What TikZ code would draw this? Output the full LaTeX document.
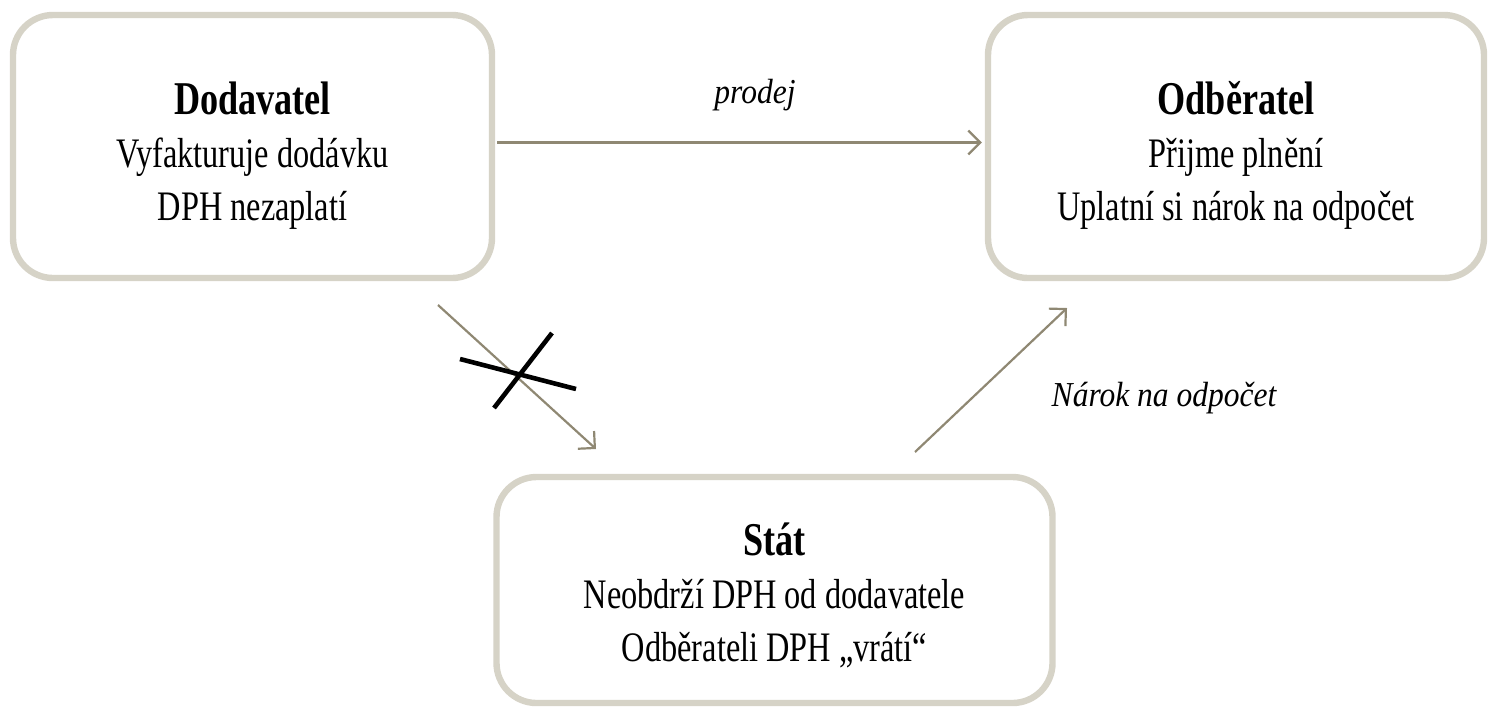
\documentclass[tikz,border=0pt]{standalone}
\usepackage{fontspec}
\setmainfont[FakeStretch=0.77]{Liberation Serif}
\newfontfamily\lblfont[FakeStretch=0.9]{Liberation Serif}
\usetikzlibrary{arrows.meta}
\definecolor{boxline}{HTML}{D6D3C7}
\definecolor{arrowc}{HTML}{8F8873}
\newcommand{\toppad}[1]{\rule{0pt}{#1}}
\begin{document}
\begin{tikzpicture}[x=0.5pt,y=-0.5pt,
  entity/.style={draw=boxline, line width=3.2pt, rounded corners=20pt, fill=white,
     align=center, inner sep=0pt, font=\fontsize{21}{26.5}\selectfont},
  flow/.style={draw=arrowc, line width=1.1pt, -{Straight Barb[length=6pt,width=12pt,line width=1.1pt]}},
  lbl/.style={font=\lblfont\itshape\fontsize{17.5}{20}\selectfont, inner sep=0pt},
  cross/.style={draw=black, line width=2.3pt}]
\useasboundingbox (0,0) rectangle (1492,709);
\node[entity, minimum width=239.5pt, minimum height=131.5pt] (dod) at (252.5,146.5)
  {\toppad{25pt}{\fontsize{23.5}{26.5}\selectfont\bfseries Dodavatel}\\Vyfakturuje dodávku\\DPH nezaplatí};
\node[entity, minimum width=248pt, minimum height=131.5pt] (odb) at (1236,146.5)
  {\toppad{25pt}{\fontsize{23.5}{26.5}\selectfont\bfseries Odběratel}\\Přijme plnění\\Uplatní si nárok na odpočet};
\node[entity, minimum width=278pt, minimum height=113pt] (stat) at (774.5,590)
  {\toppad{22pt}{\fontsize{23.5}{26.5}\selectfont\bfseries Stát}\\Neobdrží DPH od dodavatele\\Odběrateli DPH „vrátí“};
\coordinate (d1) at (438,305);
\coordinate (d2) at (596,449);
\coordinate (n1) at (915,452);
\coordinate (n2) at (1067,308);
\coordinate (x1) at (460,359);
\coordinate (x2) at (576,389);
\coordinate (x3) at (552,333);
\coordinate (x4) at (494,408);
\draw[flow, shorten <=1pt, shorten >=1.5pt] ([yshift=2pt]dod.east) -- ([yshift=2pt]odb.west);
\draw[flow] (d1) -- (d2);
\draw[flow] (n1) -- (n2);
\draw[cross] (x1) -- (x2);
\draw[cross] (x3) -- (x4);
\node[lbl, anchor=base] (prodej) at (755,103) {prodej};
\node[lbl, anchor=base] (narok) at (1164,406) {Nárok na odpočet};
\end{tikzpicture}
\end{document}
